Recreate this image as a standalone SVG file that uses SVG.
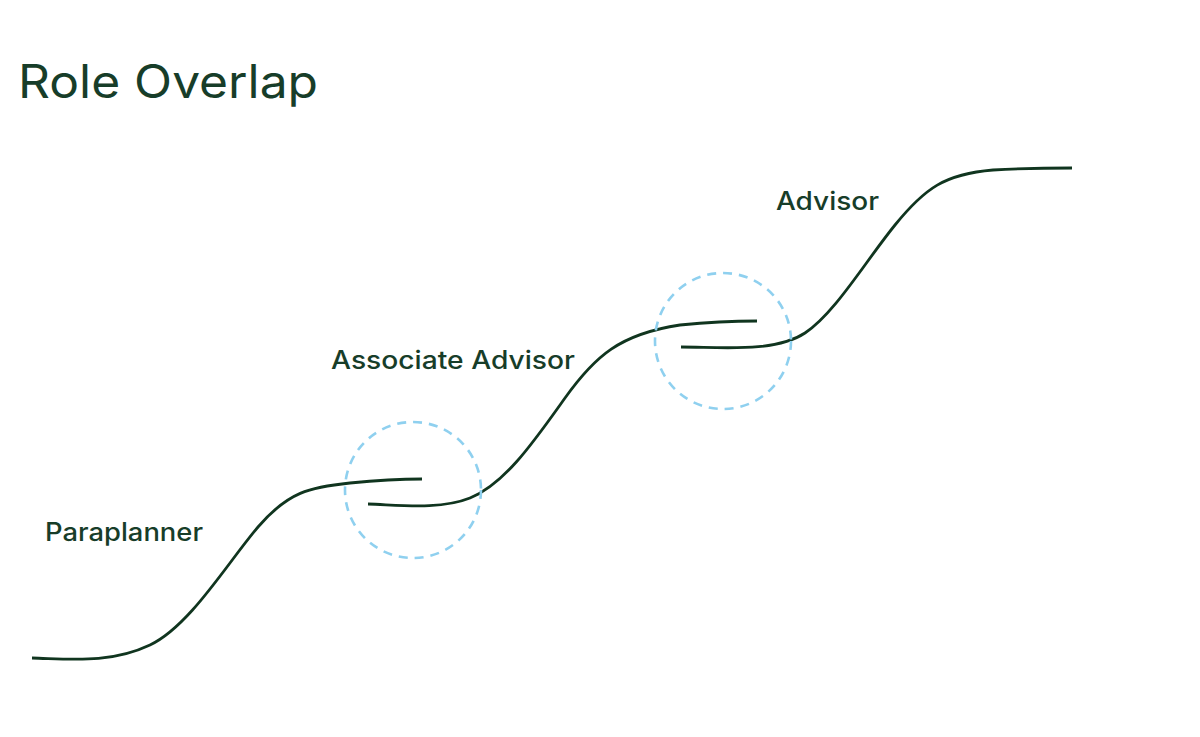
<svg xmlns="http://www.w3.org/2000/svg" width="1200" height="737" viewBox="0 0 1200 737">
<style>
.t{font-family:"Inter","Open Sans","Liberation Sans",sans-serif;fill:#173d29}
.lbl{font-size:25px;font-weight:500}
.curve{fill:none;stroke:#10351f;stroke-width:2.8;stroke-linecap:butt}
.ring{fill:none;stroke:#8fd0ef;stroke-width:2.6;stroke-dasharray:9 7}
</style>
<rect width="1200" height="737" fill="#ffffff"/>
<text class="t" x="18" y="98" font-size="46" textLength="300" lengthAdjust="spacingAndGlyphs">Role Overlap</text>
<g id="connectors">
<path class="curve" d="M32,658 C70,659 110,664 150,645 C190,626 228,562 258,527 C288,492 310,487 350,483 C380,480 400,479 422,479"/>
<path class="curve" d="M368,504 C400,505 440,510 470,498 C505,484 535,440 565,398 C595,356 620,334 680,325 C710,322 740,321 757,321"/>
<path class="curve" d="M681,347 C720,347 775,353 805,333 C835,313 865,262 895,225 C925,188 945,174 993,170 C1030,168 1050,168 1072,168"/>
</g>
<g id="overlap1"><circle class="ring" cx="413" cy="490" r="68"/></g>
<g id="overlap2"><circle class="ring" cx="723" cy="341" r="68"/></g>
<g id="paraplanner"><text class="t lbl" x="45" y="541" textLength="158" lengthAdjust="spacingAndGlyphs">Paraplanner</text></g>
<g id="associate"><text class="t lbl" x="331" y="369" textLength="244" lengthAdjust="spacingAndGlyphs">Associate Advisor</text></g>
<g id="advisor"><text class="t lbl" x="776" y="210" textLength="103" lengthAdjust="spacingAndGlyphs">Advisor</text></g>
</svg>
